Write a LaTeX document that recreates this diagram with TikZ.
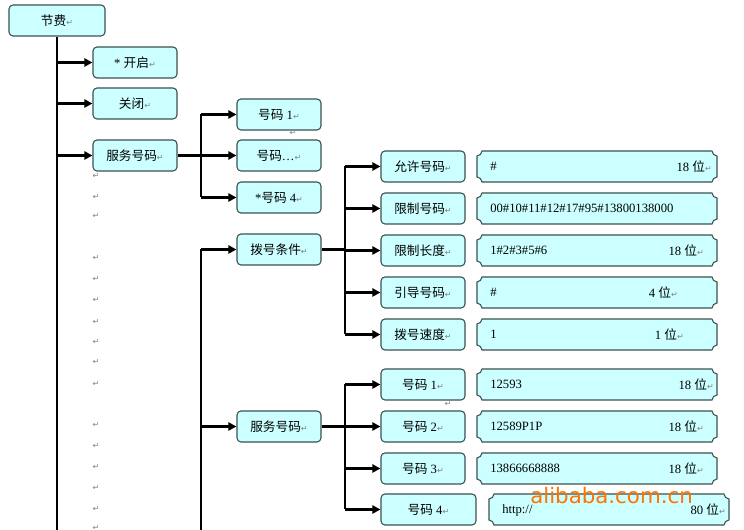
\documentclass[tikz,border=0pt]{standalone}
\usepackage{fontspec}
\setmainfont{Liberation Serif}
\newfontfamily\cjk{Noto Sans CJK SC}
\newfontfamily\dv{DejaVu Sans}
\usetikzlibrary{arrows.meta}
\definecolor{boxfill}{RGB}{204,255,255}
\definecolor{boxline}{RGB}{60,80,80}
\newcommand{\pmk}{{\dv\fontsize{6}{6}\selectfont\color{gray}↵}}
\newcommand{\plaq}[4]{%
 \draw[boxline,line width=0.8pt,fill=boxfill]
 (#1+5,#2) -- (#3-5,#2) to[bend right=40] (#3,#2+5) -- (#3,#4-5) to[bend right=40] (#3-5,#4)
 -- (#1+5,#4) to[bend right=40] (#1,#4-5) -- (#1,#2+5) to[bend right=40] (#1+5,#2) -- cycle;}
\begin{document}
\begin{tikzpicture}[x=0.75pt,y=-0.75pt,
 font=\fontsize{9.5}{11}\selectfont,
 box/.style={draw=boxline,line width=0.8pt,fill=boxfill,rounded corners=3pt,minimum width=63pt,minimum height=23.25pt,inner sep=0pt},
 conn/.style={line width=2.2pt,-{Triangle[length=6pt,width=6pt]}},
 trunk/.style={line width=2.2pt},
 txt/.style={inner sep=0pt}]
\useasboundingbox (0,0) rectangle (744,530);
% level 0-1
\node[box,minimum width=72pt] (root) at (57,20.5) {{\cjk 节费}\pmk};
\node[box] (kq) at (135,62.5) {* {\cjk 开启}\pmk};
\node[box] (gb) at (135,103.5) {{\cjk 关闭}\pmk};
\node[box] (fw) at (135,155.5) {{\cjk 服务号码}\pmk};
\node[box] (h1) at (279,114.5) {{\cjk 号码} 1\pmk};
\node[box] (hx) at (279,155.5) {{\cjk 号码}…\pmk};
\node[box] (h4) at (279,197.5) {*{\cjk 号码} 4\pmk};
\node[box] (bt) at (279,249.5) {{\cjk 拨号条件}\pmk};
\node[box] (fw2) at (279,426.5) {{\cjk 服务号码}\pmk};
\node[box] (yx) at (423,166.5) {{\cjk 允许号码}\pmk};
\node[box] (xz) at (423,208.5) {{\cjk 限制号码}\pmk};
\node[box] (xc) at (423,250.5) {{\cjk 限制长度}\pmk};
\node[box] (yd) at (423,292.5) {{\cjk 引导号码}\pmk};
\node[box] (bs) at (423,334.5) {{\cjk 拨号速度}\pmk};
\node[box] (n1) at (423,384.5) {{\cjk 号码} 1\pmk};
\node[box] (n2) at (423,426.5) {{\cjk 号码} 2\pmk};
\node[box] (n3) at (423,468.5) {{\cjk 号码} 3\pmk};
\node[box,minimum width=71.25pt] (n4) at (428.5,509.5) {{\cjk 号码} 4\pmk};
% connectors
\coordinate (t0) at (57,530);
\draw[trunk] (root.south) -- (t0);
\foreach \n in {kq,gb,fw} \draw[conn] (57,0 |- \n.west) -- (\n.west);
\coordinate (a1) at (201,114.5); \coordinate (a2) at (201,197.5);
\draw[trunk] (a1) -- (a2);
\draw[trunk] (fw.east) -- (201,155.5);
\foreach \n in {h1,hx,h4} \draw[conn] (201,0 |- \n.west) -- (\n.west);
\coordinate (b1) at (201,249.5); \coordinate (b2) at (201,530);
\draw[trunk] (b1) -- (b2);
\foreach \n in {bt,fw2} \draw[conn] (201,0 |- \n.west) -- (\n.west);
\coordinate (c1) at (345,166.5); \coordinate (c2) at (345,334.5);
\draw[trunk] (c1) -- (c2); \draw[trunk] (bt.east) -- (345,249.5);
\foreach \n in {yx,xz,xc,yd,bs} \draw[conn] (345,0 |- \n.west) -- (\n.west);
\coordinate (d1) at (345,384.5); \coordinate (d2) at (345,509.5);
\draw[trunk] (d1) -- (d2); \draw[trunk] (fw2.east) -- (345,426.5);
\foreach \n in {n1,n2,n3,n4} \draw[conn] (345,0 |- \n.west) -- (\n.west);
% value plaques
\plaq{477}{151}{717}{182}\plaq{477}{193}{717}{224}\plaq{477}{235}{717}{266}
\plaq{477}{277}{717}{308}\plaq{477}{319}{717}{350}
\plaq{477}{369}{717}{400}\plaq{477}{411}{717}{442}\plaq{477}{453}{717}{484}
\plaq{489}{494}{729}{525}
\node[txt,anchor=west] (v1) at (490,166.5) {\#};
\node[txt,anchor=east] (v1r) at (712,166.5) {18 {\cjk 位}\pmk};
\node[txt,anchor=west] (v2) at (490,208.5) {00\#10\#11\#12\#17\#95\#13800138000};
\node[txt,anchor=west] (v3) at (490,250.5) {1\#2\#3\#5\#6};
\node[txt,anchor=east] (v3r) at (704,250.5) {18 {\cjk 位}\pmk};
\node[txt,anchor=west] (v4) at (490,292.5) {\#};
\node[txt,anchor=east] (v4r) at (678,292.5) {4 {\cjk 位}\pmk};
\node[txt,anchor=west] (v5) at (490,334.5) {1};
\node[txt,anchor=east] (v5r) at (684,334.5) {1 {\cjk 位}\pmk};
\node[txt,anchor=west] (w1) at (490,384.5) {12593};
\node[txt,anchor=east] (w1r) at (714,384.5) {18 {\cjk 位}\pmk};
\node[txt,anchor=west] (w2) at (490,426.5) {12589P1P};
\node[txt,anchor=east] (w2r) at (704,426.5) {18 {\cjk 位}\pmk};
\node[txt,anchor=west] (w3) at (490,468.5) {13866668888};
\node[txt,anchor=east] (w3r) at (704,468.5) {18 {\cjk 位}\pmk};
\node[txt,anchor=west] (w4) at (502,510.5) {http://};
\node[txt,anchor=east] (w4r) at (726,509.5) {80 {\cjk 位}\pmk};
% stray paragraph marks
\foreach \y [count=\i] in {176,197,216,258,279,300,322,342,362,384,425,446,467,488,509,528}
 \node[txt] (p\i) at (96,\y) {\pmk};
\node[txt] (q1) at (293,133) {\pmk};
\node[txt] (q2) at (448,404) {\pmk};
% watermark
\node[txt,anchor=west,text=orange!90!red,font=\dv\fontsize{16}{16}\selectfont] (wm) at (530,496) {alibaba.com.cn};
\end{tikzpicture}
\end{document}
